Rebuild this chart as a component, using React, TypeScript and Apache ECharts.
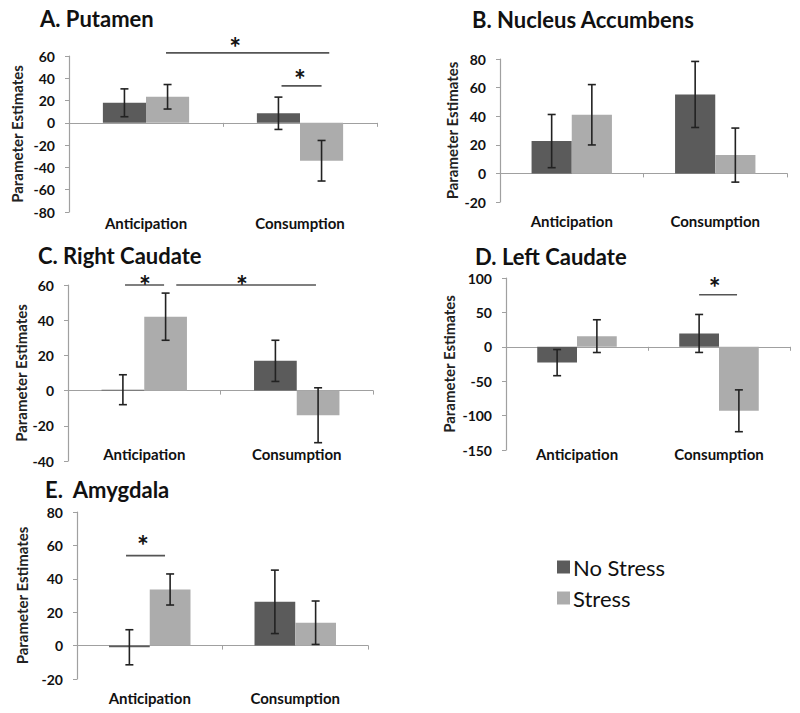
import React, { useEffect, useRef } from "react";
import * as echarts from "echarts";

// ---------- data ----------
const categories = ["Anticipation", "Consumption"];
const seriesNames = ["No Stress", "Stress"];
const panelTitles = ["A. Putamen", "B. Nucleus Accumbens", "C. Right Caudate", "D. Left Caudate", "E.  Amygdala"];
const yAxisName = "Parameter Estimates";

const putamenNoStress = [18, 8.6];
const putamenNoStressErr = [12.5, 14.5];
const putamenStress = [23.4, -34];
const putamenStressErr = [11, 18.2];

const accumbensNoStress = [22.6, 55.2];
const accumbensNoStressErr = [18.6, 23.1];
const accumbensStress = [41, 12.8];
const accumbensStressErr = [21.1, 18.9];

const rightCaudateNoStress = [0.5, 16.9];
const rightCaudateNoStressErr = [8.5, 11.7];
const rightCaudateStress = [42, -14];
const rightCaudateStressErr = [13.4, 15.6];

const leftCaudateNoStress = [-23, 19.4];
const leftCaudateNoStressErr = [19, 27.6];
const leftCaudateStress = [15.5, -93];
const leftCaudateStressErr = [23.8, 30.4];

const amygdalaNoStress = [-1, 26.2];
const amygdalaNoStressErr = [10.5, 19];
const amygdalaStress = [33.6, 13.7];
const amygdalaStressErr = [9.3, 13];

const yMins = [-80, -20, -40, -150, -20];
const yMaxs = [60, 80, 60, 100, 80];
const ySteps = [20, 20, 20, 50, 20];

// significance brackets: [fromCat, toCat, lineValue, starCat, starValue]
const putamenBrackets = [
  [0.13, 1.19, 62.8, 0.58, 74.5],
  [0.88, 1.14, 33.2, 1.0, 45.8],
];
const accumbensBrackets: number[][] = [];
const rightCaudateBrackets = [
  [-0.126, 0.13, 60, 0.005, 64],
  [0.21, 1.126, 60, 0.64, 64],
];
const leftCaudateBrackets = [[0.86, 1.127, 75.6, 0.97, 97]];
const amygdalaBrackets = [[-0.163, 0.105, 53.9, -0.046, 64.7]];

const noStressValues = [putamenNoStress, accumbensNoStress, rightCaudateNoStress, leftCaudateNoStress, amygdalaNoStress];
const noStressErrs = [putamenNoStressErr, accumbensNoStressErr, rightCaudateNoStressErr, leftCaudateNoStressErr, amygdalaNoStressErr];
const stressValues = [putamenStress, accumbensStress, rightCaudateStress, leftCaudateStress, amygdalaStress];
const stressErrs = [putamenStressErr, accumbensStressErr, rightCaudateStressErr, leftCaudateStressErr, amygdalaStressErr];
const brackets = [putamenBrackets, accumbensBrackets, rightCaudateBrackets, leftCaudateBrackets, amygdalaBrackets];

// ---------- layout ----------
const gridRects = [
  [69, 56, 308, 156],
  [500, 59, 287, 143],
  [68, 285, 305, 176],
  [506, 278, 284, 172],
  [77, 512, 291, 167],
];
const titlePos = [
  [40, 5],
  [472, 6],
  [38, 242],
  [475, 243],
  [45, 476],
];
const nameGaps = [45, 41, 40, 50, 48];
const catLabelMargins = [3, 11, -15, -4, 11];

const FONT = "Lato, 'Open Sans', sans-serif";
const DARK = "#5b5b5b";
const LIGHT = "#acacac";
const GAP = 0.44;
const BAR_OFFSET = (1 - GAP) / 4;

export default function App() {
  const ref = useRef<HTMLDivElement>(null);

  useEffect(() => {
    if (!ref.current) return;
    const chart = echarts.init(ref.current, undefined, { renderer: "svg" });

    const grid: any[] = [];
    const xAxis: any[] = [];
    const yAxis: any[] = [];
    const series: any[] = [];
    const title: any[] = [];

    for (let p = 0; p < 5; p++) {
      const [l, t, w, h] = gridRects[p];
      grid.push({ left: l, top: t, width: w, height: h, containLabel: false });
      title.push({
        text: panelTitles[p],
        left: titlePos[p][0],
        top: titlePos[p][1],
        padding: 0,
        textStyle: { fontFamily: FONT, fontSize: 22, fontWeight: "bold", color: "#111", lineHeight: 26 },
      });
      // label axis
      xAxis.push({
        type: "category",
        gridIndex: p,
        data: categories,
        position: "bottom",
        axisLine: { show: false, onZero: false },
        axisTick: { show: false },
        axisLabel: {
          margin: catLabelMargins[p],
          fontFamily: FONT,
          fontSize: 15,
          fontWeight: "bold",
          color: "#111",
        },
      });
      // zero line axis
      xAxis.push({
        type: "category",
        gridIndex: p,
        data: categories,
        position: "bottom",
        axisLine: { show: true, onZero: true, lineStyle: { color: "#a0a0a0", width: 1.2 } },
        axisTick: { show: true, length: 4, lineStyle: { color: "#a0a0a0" } },
        axisLabel: { show: false },
      });
      yAxis.push({
        type: "value",
        gridIndex: p,
        min: yMins[p],
        max: yMaxs[p],
        interval: ySteps[p],
        name: yAxisName,
        nameLocation: "middle",
        nameGap: nameGaps[p],
        nameTextStyle: { fontFamily: FONT, fontSize: 15, fontWeight: "bold", color: "#222" },
        splitLine: { show: false },
        axisLine: { show: true, lineStyle: { color: "#a0a0a0", width: 1.2 } },
        axisTick: { show: true, length: 4, lineStyle: { color: "#a0a0a0" } },
        axisLabel: { margin: 14, fontFamily: FONT, fontSize: 14, fontWeight: "bold", color: "#111" },
      });

      const xi = p * 2;
      series.push({
        type: "bar",
        name: seriesNames[0],
        xAxisIndex: xi,
        yAxisIndex: p,
        data: noStressValues[p],
        barGap: "0%",
        barCategoryGap: GAP * 100 + "%",
        itemStyle: { color: DARK },
      });
      series.push({
        type: "bar",
        name: seriesNames[1],
        xAxisIndex: xi,
        yAxisIndex: p,
        data: stressValues[p],
        barGap: "0%",
        barCategoryGap: GAP * 100 + "%",
        itemStyle: { color: LIGHT },
      });

      const errData: number[][] = [];
      for (let c = 0; c < categories.length; c++) {
        errData.push([c, noStressValues[p][c] - noStressErrs[p][c], noStressValues[p][c] + noStressErrs[p][c], -1]);
        errData.push([c, stressValues[p][c] - stressErrs[p][c], stressValues[p][c] + stressErrs[p][c], 1]);
      }
      series.push({
        type: "custom",
        name: "err" + p,
        xAxisIndex: xi,
        yAxisIndex: p,
        data: errData,
        encode: { x: 0, y: [1, 2] },
        z: 5,
        renderItem: (params: any, api: any) => {
          const c = api.value(0);
          const lo = api.value(1);
          const hi = api.value(2);
          const side = api.value(3);
          const catW = api.size([1, 0])[0];
          const pLo = api.coord([c, lo]);
          const pHi = api.coord([c, hi]);
          const x = pLo[0] + side * BAR_OFFSET * catW;
          const cap = 4;
          const style = { stroke: "#222", lineWidth: 1.6 };
          return {
            type: "group",
            children: [
              { type: "line", shape: { x1: x, y1: pLo[1], x2: x, y2: pHi[1] }, style },
              { type: "line", shape: { x1: x - cap, y1: pLo[1], x2: x + cap, y2: pLo[1] }, style },
              { type: "line", shape: { x1: x - cap, y1: pHi[1], x2: x + cap, y2: pHi[1] }, style },
            ],
          };
        },
      });

      if (brackets[p].length) {
        series.push({
          type: "custom",
          name: "sig" + p,
          xAxisIndex: xi,
          yAxisIndex: p,
          data: brackets[p],
          encode: { x: 0, y: 2 },
          z: 6,
          clip: false,
          renderItem: (params: any, api: any) => {
            const x1 = api.value(0);
            const x2 = api.value(1);
            const yv = api.value(2);
            const sx = api.value(3);
            const sy = api.value(4);
            const catW = api.size([1, 0])[0];
            const base = api.coord([0, yv]);
            const sBase = api.coord([0, sy]);
            return {
              type: "group",
              children: [
                {
                  type: "line",
                  shape: { x1: base[0] + x1 * catW, y1: base[1], x2: base[0] + x2 * catW, y2: base[1] },
                  style: { stroke: "#555", lineWidth: 1.6 },
                },
                {
                  type: "text",
                  x: sBase[0] + sx * catW,
                  y: sBase[1] + 7,
                  style: {
                    text: "*",
                    fontFamily: FONT,
                    fontSize: 28,
                    fontWeight: "bold",
                    fill: "#111",
                    align: "center",
                    verticalAlign: "middle",
                  },
                },
              ],
            };
          },
        });
      }
    }

    chart.setOption({
      animation: false,
      backgroundColor: "#fff",
      title,
      grid,
      xAxis,
      yAxis,
      series,
      legend: {
        data: seriesNames,
        orient: "vertical",
        left: 552,
        top: 551,
        itemWidth: 13,
        itemHeight: 13,
        itemGap: 9,
        icon: "rect",
        selectedMode: false,
        textStyle: { fontFamily: FONT, fontSize: 22, color: "#111", padding: [0, 0, 0, -2] },
      },
    });

    return () => chart.dispose();
  }, []);

  return <div ref={ref} style={{ position: "fixed", left: 0, top: 0, width: 800, height: 713 }} />;
}
